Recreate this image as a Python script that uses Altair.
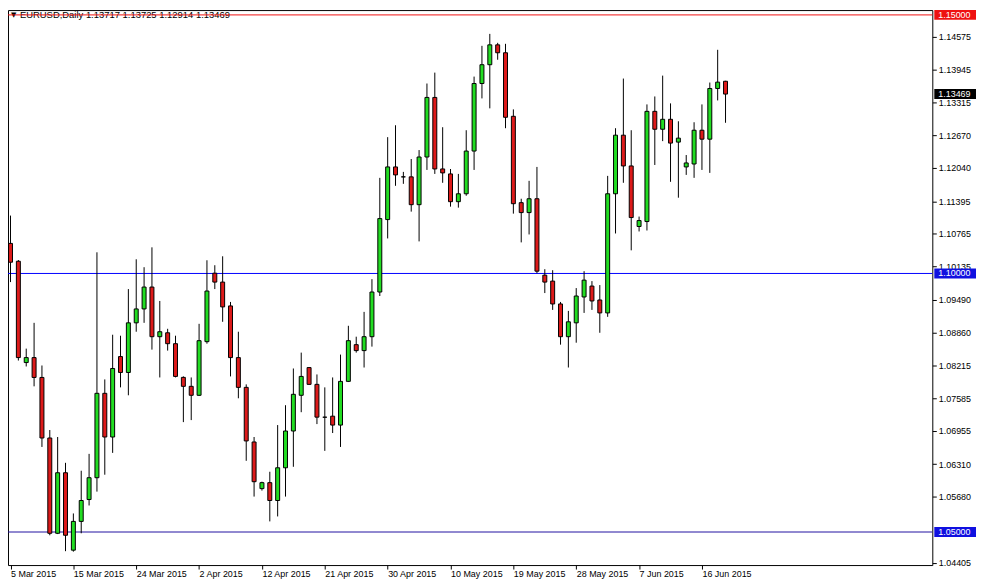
import json
import altair as alt
import pandas as pd

# ---- data (EURUSD daily, MT4 style) ----
OPEN = [1.10581, 1.10236, 1.08277, 1.08373, 1.07989, 1.06818, 1.04975, 1.06146, 1.04649, 1.05205,
        1.05628, 1.06050, 1.07682, 1.06837, 1.08393, 1.08085, 1.09045, 1.09314, 1.09737, 1.08777,
        1.08853, 1.08642, 1.07990, 1.07817, 1.07644, 1.08681, 1.10005, 1.09833, 1.09372, 1.08373,
        1.07797, 1.06741, 1.05839, 1.05954, 1.05609, 1.06242, 1.06953, 1.07644, 1.08180, 1.07855,
        1.07220, 1.07240, 1.07068, 1.07913, 1.08623, 1.08508, 1.08777, 1.09641, 1.11042, 1.12060,
        1.11868, 1.11868, 1.11330, 1.12252, 1.13404, 1.12021, 1.11925, 1.11388, 1.11541, 1.12367,
        1.13673, 1.14037, 1.14421, 1.14268, 1.13039, 1.11369, 1.11177, 1.11445, 1.09967, 1.09852,
        1.09410, 1.08777, 1.09045, 1.09545, 1.09756, 1.09487, 1.09237, 1.11541, 1.12674, 1.12079,
        1.10908, 1.11004, 1.13135, 1.12789, 1.12981, 1.12540, 1.12060, 1.12117, 1.12770, 1.12597,
        1.13577, 1.13717]
HIGH = [1.11119, 1.10260, 1.08546, 1.09045, 1.08220, 1.06972, 1.06837, 1.06338, 1.05359, 1.06185,
        1.06511, 1.10409, 1.07951, 1.08815, 1.08796, 1.09698, 1.10274, 1.10121, 1.10505, 1.09468,
        1.08930, 1.08796, 1.08010, 1.07989, 1.09026, 1.10255, 1.10159, 1.10332, 1.09449, 1.08873,
        1.07855, 1.06837, 1.05973, 1.06165, 1.07068, 1.07452, 1.08162, 1.08469, 1.08190, 1.08047,
        1.07797, 1.07989, 1.08431, 1.08988, 1.08777, 1.09257, 1.09890, 1.11849, 1.12636, 1.12866,
        1.11964, 1.12213, 1.12386, 1.13673, 1.13884, 1.12828, 1.12020, 1.11925, 1.12770, 1.13807,
        1.14402, 1.14633, 1.14460, 1.14441, 1.13173, 1.11445, 1.11791, 1.12060, 1.10082, 1.10063,
        1.09449, 1.09276, 1.09717, 1.10044, 1.09852, 1.09775, 1.11887, 1.12809, 1.13769, 1.12770,
        1.11100, 1.13269, 1.13423, 1.13826, 1.13289, 1.12943, 1.12290, 1.12924, 1.13269, 1.13692,
        1.14325, 1.13725]
LOW = [1.09833, 1.08316, 1.08201, 1.07817, 1.06645, 1.04937, 1.04960, 1.04629, 1.04620, 1.04975,
       1.05513, 1.05781, 1.06108, 1.06530, 1.07797, 1.07644, 1.08873, 1.09045, 1.08527, 1.07989,
       1.08508, 1.07990, 1.07125, 1.07164, 1.07630, 1.08642, 1.09698, 1.09065, 1.08009, 1.07586,
       1.06377, 1.05685, 1.05801, 1.05205, 1.05301, 1.05685, 1.06261, 1.07317, 1.07850, 1.07087,
       1.06569, 1.06914, 1.06645, 1.07900, 1.08469, 1.08181, 1.08585, 1.09564, 1.10677, 1.11695,
       1.11733, 1.11196, 1.10620, 1.12002, 1.11925, 1.11753, 1.11292, 1.11273, 1.11503, 1.12002,
       1.13385, 1.13193, 1.14133, 1.12809, 1.11157, 1.10601, 1.10754, 1.10005, 1.09621, 1.09295,
       1.08623, 1.08181, 1.08661, 1.09237, 1.09295, 1.08853, 1.09161, 1.10773, 1.11753, 1.10447,
       1.10812, 1.10831, 1.12098, 1.12559, 1.11772, 1.11465, 1.11906, 1.11849, 1.12002, 1.11945,
       1.13346, 1.12914]
CLOSE = [1.10217, 1.08373, 1.08373, 1.07989, 1.06818, 1.04975, 1.06146, 1.04937, 1.05205, 1.05609,
         1.06050, 1.07682, 1.06837, 1.08162, 1.08085, 1.09045, 1.09314, 1.09737, 1.08777, 1.08873,
         1.08642, 1.08009, 1.07817, 1.07644, 1.08700, 1.09660, 1.09833, 1.09353, 1.08373, 1.07797,
         1.06761, 1.05973, 1.05954, 1.05609, 1.06242, 1.06953, 1.07663, 1.08009, 1.07855, 1.07221,
         1.07220, 1.07068, 1.07913, 1.08700, 1.08508, 1.08777, 1.09641, 1.11061, 1.12060, 1.11906,
         1.11868, 1.11330, 1.12252, 1.13404, 1.12021, 1.11945, 1.11388, 1.11541, 1.12367, 1.13673,
         1.14037, 1.14421, 1.14268, 1.13020, 1.11349, 1.11177, 1.11445, 1.10044, 1.09833, 1.09410,
         1.08777, 1.09065, 1.09564, 1.09871, 1.09468, 1.09237, 1.11541, 1.12674, 1.12079, 1.11081,
         1.11023, 1.13135, 1.12789, 1.12981, 1.12521, 1.12617, 1.12137, 1.12770, 1.12597, 1.13577,
         1.13700, 1.13469]

DATE_LABELS = ["5 Mar 2015", "15 Mar 2015", "24 Mar 2015", "2 Apr 2015", "12 Apr 2015",
               "21 Apr 2015", "30 Apr 2015", "10 May 2015", "19 May 2015", "28 May 2015",
               "7 Jun 2015", "16 Jun 2015"]
DATE_BARS = [0, 8, 16, 24, 32, 40, 48, 56, 64, 72, 80, 88]
PRICE_TICKS = [1.14575, 1.13945, 1.13315, 1.12670, 1.12040, 1.11395, 1.10765, 1.10135,
               1.09490, 1.08860, 1.08215, 1.07585, 1.06955, 1.06310, 1.05680, 1.04405]
LEVELS = [1.15, 1.10, 1.05]
LEVEL_LINE_COLORS = ["#F01010", "#0000FF", "#2010A0"]
BOX_PRICES = [1.15, 1.13469, 1.10, 1.05]
BOX_TEXTS = ["1.15000", "1.13469", "1.10000", "1.05000"]
BOX_COLORS = ["#EE1111", "#000000", "#1010E0", "#1010E0"]
HEADER = "EURUSD,Daily  1.13717 1.13725 1.12914 1.13469"

FONT = "Liberation Sans"

rows = []
for i, (o, h, l, c) in enumerate(zip(OPEN, HIGH, LOW, CLOSE)):
    d = "up" if c > o else ("down" if c < o else "flat")
    rows.append({"i": i, "o": o, "h": h, "l": l, "c": c, "dir": d})
df = pd.DataFrame(rows)

xs = alt.Scale(domain=[0.3125, 116.6875], nice=False, zero=False)
ys = alt.Scale(domain=[1.043606, 1.150934], nice=False, zero=False)

label_expr = json.dumps(DATE_LABELS) + "[round(datum.value / 8)]"


def xaxis():
    return alt.Axis(values=DATE_BARS, labelExpr=label_expr, orient="bottom", tickSize=4,
                    labelAlign="left", labelPadding=1, labelFontSize=9, labelFont=FONT,
                    labelColor="black", tickColor="black", domain=False, grid=False,
                    title=None, labelFlush=False, labelOverlap=False, labelBound=False)


def yaxis():
    return alt.Axis(values=PRICE_TICKS, format=".5f", orient="right", tickSize=4,
                    labelPadding=2, labelFontSize=9, labelFont=FONT, labelColor="black",
                    tickColor="black", domain=False, grid=False, title=None,
                    labelOverlap=False, labelFlush=False, labelBaseline="middle")


base = alt.Chart(df)

wicks = base.mark_rule(color="black", strokeWidth=1, clip=True).encode(
    x=alt.X("i:Q", scale=xs, axis=xaxis()),
    y=alt.Y("l:Q", scale=ys, axis=yaxis()),
    y2="h:Q",
)

bodies = base.mark_bar(width=4, stroke="black", strokeWidth=1, clip=True).encode(
    x=alt.X("i:Q", scale=xs, axis=xaxis()),
    y=alt.Y("o:Q", scale=ys, axis=yaxis()),
    y2="c:Q",
    color=alt.Color("dir:N", scale=alt.Scale(domain=["up", "down", "flat"],
                                             range=["#22DD22", "#DD1A1A", "#000000"]),
                    legend=None),
)

lv = pd.DataFrame({"p": LEVELS, "col": LEVEL_LINE_COLORS})
level_rules = alt.Chart(lv).mark_rule(strokeWidth=1).encode(
    y=alt.Y("p:Q", scale=ys, axis=yaxis()),
    stroke=alt.Stroke("col:N", scale=None),
)

hdr = pd.DataFrame({"t": [HEADER], "tri": ["\u25BC"]})
header_tri = alt.Chart(hdr).mark_text(align="left", baseline="middle", fontSize=7,
                                      font="DejaVu Sans", color="black").encode(
    x=alt.value(3), y=alt.value(5), text="tri:N")
header_txt = alt.Chart(hdr).mark_text(align="left", baseline="middle", fontSize=9.5,
                                      font=FONT, color="black").encode(
    x=alt.value(12), y=alt.value(5), text="t:N")

bx = pd.DataFrame({"p": BOX_PRICES, "t": BOX_TEXTS, "bg": BOX_COLORS})
boxes = alt.Chart(bx).mark_rect(height=10, clip=False).encode(
    x=alt.value(933), x2=alt.value(975),
    y=alt.Y("p:Q", scale=ys, axis=yaxis()),
    fill=alt.Fill("bg:N", scale=None),
)
box_text = alt.Chart(bx).mark_text(align="left", baseline="middle", fontSize=9,
                                   font=FONT, color="white", clip=False).encode(
    x=alt.value(937),
    y=alt.Y("p:Q", scale=ys, axis=yaxis()),
    text="t:N",
)

chart = alt.layer(
    header_tri, header_txt, level_rules, wicks, bodies, boxes, box_text
).resolve_scale(
    color="independent", fill="independent", stroke="independent"
).properties(
    width=931, height=559,
    padding={"left": 0, "top": 0, "right": 44, "bottom": 20},
    autosize=alt.AutoSizeParams(type="none"),
    background="white",
).configure_view(
    stroke="black", strokeWidth=1
).configure_axis(
    labelOverlap=False
)

chart.save("out.html", embed_options={"renderer": "svg", "actions": False})
